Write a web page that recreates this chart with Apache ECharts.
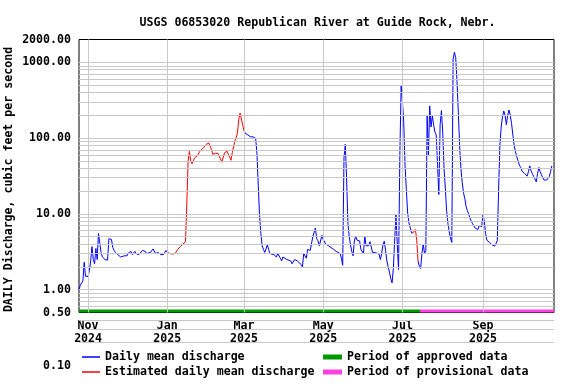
<!DOCTYPE html>
<html><head><meta charset="utf-8">
<script src="https://cdn.jsdelivr.net/npm/echarts@6/dist/echarts.min.js"></script>
<style>html,body{margin:0;padding:0;background:#fff}#c{width:576px;height:384px}</style>
</head><body><div id="c"></div>
<script>
// ---- data ----
const startDay = Date.UTC(2024, 9, 25);           // day offset 0 = 2024-10-25
const axisMin = Date.UTC(2024, 9, 25);
const axisMax = Date.UTC(2025, 9, 25, 16);
const dayOffsets = [0,1,2,3,4,5,6,7,8,9,10,11,12,13,14,15,16,17,18,19,20,21,22,23,24,25,26,27,28,29,30,31,32,33,35,37,38,40,41,43,44,46,47,49,51,52,53,55,57,58,59,61,63,65,66,67,68,
70,72,74,76,78,80,82,83,84,85,86,87,89,90,91,93,96,98,100,102,103,105,107,108,110,112,114,115,117,118,120,121,122,123,124,125,126,127,
128,130,132,134,135,136,137,138,139,140,141,142,143,145,146,147,148,150,152,153,155,156,157,158,160,161,163,164,166,168,169,171,172,173,175,176,178,179,180,182,183,184,185,187,188,190,192,193,196,198,201,202,203,204,205,206,207,208,209,210,211,212,213,214,216,217,219,220,221,223,224,225,226,229,231,232,233,234,235,236,237,238,239,240,241,242,243,244,245,246,247,248,249,250,251,252,253,254,255,256,257,
258,259,260,261,
262,263,264,265,266,267,268,269,270,271,272,273,274,275,276,277,278,279,280,281,282,283,284,285,286,287,288,289,290,291,292,293,294,295,296,297,298,299,300,301,302,303,304,305,306,307,308,309,310,311,312,313,314,315,316,317,318,319,320,321,322,323,324,325,326,327,328,329,330,331,332,333,334,335,336,337,338,339,340,341,342,343,344,345,346,347,348,349,350,351,352,353,354,355,356,357,358,359,360,361,362,363,364];
const dailyFlow = [1.0,1.15,1.2,1.3,2.3,1.5,1.45,1.5,1.8,2.4,3.7,2.5,2.2,3.5,2.5,5.5,4.1,3.1,2.7,2.6,2.5,2.45,2.45,4.7,4.7,4.6,3.6,3.3,3.1,3.0,2.9,2.75,2.7,2.7,2.8,2.8,3.05,3.2,2.9,3.2,3.0,2.9,3.0,3.3,3.2,3.0,2.9,3.1,3.45,3.3,3.0,3.1,2.9,2.9,3.1,3.3,3.1,
3.0,2.95,3.0,3.4,3.7,4.0,4.3,14,50,67,50,46,55,52,58,67,75,83,86,71,61,63,63,62,48,64,67,67,51,64,92,101,118,177,213,217,150,125,
116,110,104,104,100,99,62,24,9.5,5.5,3.8,3.4,3.1,3.9,3.4,3.0,2.9,2.9,2.7,3.0,2.6,2.4,2.7,2.6,2.5,2.55,2.4,2.2,2.5,2.4,2.5,2.15,2.0,3.0,2.6,3.4,3.3,3.5,5.0,6.5,4.7,4.4,3.8,5.2,4.6,4.0,3.8,3.8,3.4,3.2,3.0,2.6,2.1,55,83,30,7.6,5.1,3.9,3.2,2.8,4.4,5.1,4.5,4.4,3.4,3.0,5.1,3.8,3.8,4.3,4.2,3.1,3.05,2.95,2.5,3.0,3.9,4.36,3.3,2.4,2.0,1.7,1.4,1.23,1.9,4.5,9.8,4.0,1.85,60,490,300,160,43,21,10.3,7.6,6.6,5.6,5.6,
5.3,6.2,4.5,2.4,
2.03,1.9,3.0,4.0,3.0,3.3,195,60,266,140,196,150,120,110,45,18,150,230,120,40,22,11,7.5,5.8,4.8,4.2,1100,1360,1150,560,220,80,40,26,19,16,12.5,11,10,8.8,8.0,7.4,7.0,6.5,6.2,6.2,7.0,7.0,6.8,9.8,8.0,5.5,4.5,4.3,4.2,4.0,3.9,3.8,3.75,3.7,4.4,20,80,140,190,228,200,150,200,235,200,155,110,80,66,57,50,44,41,37,35,34,33,31.5,36,43,37,34,31,29,26.5,34,41,36,33,30,28,28,28,28.5,31,36,43];
const estimatedStart = [68, 257];
const estimatedEnd = [127, 261];
const approvedPeriod = [Date.UTC(2024, 9, 25), Date.UTC(2025, 6, 14, 12)];
const provisionalPeriod = [Date.UTC(2025, 6, 14, 12), Date.UTC(2025, 9, 25, 16)];
const xTickDates = [Date.UTC(2024,10,1), Date.UTC(2025,0,1), Date.UTC(2025,2,1), Date.UTC(2025,4,1), Date.UTC(2025,6,1), Date.UTC(2025,8,1)];
const xTickLabels = ['Nov\n2024','Jan\n2025','Mar\n2025','May\n2025','Jul\n2025','Sep\n2025'];
const yTickValues = [2000, 1000, 100, 10, 1, 0.5];
const yTickLabels = ['2000.00','1000.00','100.00','10.00','1.00','0.50'];
const lowTickValues = [0.1];
const lowTickLabels = ['0.10'];
const seriesNames = ['Daily mean discharge','Estimated daily mean discharge','Period of approved data','Period of provisional data'];

// ---- helpers / style ----
const PERIOD_LEVEL = 0.524;
const FONT = {fontFamily:'DejaVu Sans Mono', fontWeight:'bold', fontSize:11.6, color:'#000'};
const GRID_GREY = '#c8c8c8';
const toTime = d => startDay + d * 86400000;
const inside = d => estimatedStart.some((s, k) => d > s && d < estimatedEnd[k]);
const within = d => estimatedStart.some((s, k) => d >= s && d <= estimatedEnd[k]);
const blueData = dayOffsets.map((d, i) => [toTime(d), inside(d) ? null : dailyFlow[i]]);
const redData = dayOffsets.map((d, i) => [toTime(d), within(d) ? dailyFlow[i] : null]);
const gridLineValues = [];
[0.1, 1, 10, 100, 1000].forEach(dec => { for (let m = 1; m <= 9; m++) { const v = +(dec * m).toPrecision(3); if (v > 0.5 && v < 2000) gridLineValues.push(v); } });
const lowGridLineValues = [0.2, 0.3, 0.4];
const sameLog = (a, b) => Math.abs(Math.log10(a) - Math.log10(b)) < 1e-6;

const chart = echarts.init(document.getElementById('c'), null, {renderer:'canvas'});
chart.setOption({
  animation: false,
  backgroundColor: '#fff',
  title: {text:'USGS 06853020 Republican River at Guide Rock, Nebr.', left:312.5, textAlign:'center', top:12,
    textStyle: Object.assign({}, FONT)},
  grid: [
    {left:79, top:39.5, width:475, height:273, show:true, borderColor:'#000', borderWidth:1, backgroundColor:'transparent', containLabel:false, outerBoundsMode:'none'},
    {left:79, top:312.5, width:475, height:53, show:false, containLabel:false, outerBoundsMode:'none'}
  ],
  xAxis: [
    {type:'value', gridIndex:0, min:axisMin, max:axisMax, axisLine:{show:false}, axisTick:{show:false}, splitLine:{show:false},
      axisLabel:{customValues:xTickDates, margin:6.5, lineHeight:13.5, fontFamily:FONT.fontFamily, fontWeight:'bold', fontSize:11.6, color:'#000',
        formatter: v => { const i = xTickDates.findIndex(t => Math.abs(t - v) < 3600000); return i >= 0 ? xTickLabels[i] : ''; }}},
    {type:'value', gridIndex:1, min:axisMin, max:axisMax, show:false}
  ],
  yAxis: [
    {type:'log', gridIndex:0, logBase:10, min:0.5, max:2000, axisLine:{show:false}, axisTick:{show:false}, splitLine:{show:false},
      name:'DAILY Discharge, cubic feet per second', nameLocation:'middle', nameRotate:90, nameGap:64, nameMoveOverlap:false,
      nameTextStyle:{fontFamily:FONT.fontFamily, fontWeight:'bold', fontSize:11.6, color:'#000', padding:[0,7,0,0]},
      axisLabel:{margin:8, fontFamily:FONT.fontFamily, fontWeight:'bold', fontSize:11.6, color:'#000',
        formatter: v => { const i = yTickValues.findIndex(t => sameLog(t, v)); return i >= 0 ? yTickLabels[i] : ''; }}},
    {type:'log', gridIndex:1, logBase:10, min:0.1, max:0.5, axisLine:{show:false}, axisTick:{show:false}, splitLine:{show:false},
      axisLabel:{margin:8, fontFamily:FONT.fontFamily, fontWeight:'bold', fontSize:11.6, color:'#000',
        formatter: v => { const i = lowTickValues.findIndex(t => sameLog(t, v)); return i >= 0 ? lowTickLabels[i] : ''; }}}
  ],
  legend: [
    {left:82, top:350, orient:'vertical', padding:0, itemGap:1, itemWidth:18, itemHeight:1.5, icon:'rect', selectedMode:false,
      textStyle:Object.assign({lineHeight:14}, FONT), data:[seriesNames[0], seriesNames[1]]},
    {left:323, top:350, orient:'vertical', padding:0, itemGap:1, itemWidth:19, itemHeight:5, icon:'rect', selectedMode:false,
      textStyle:Object.assign({lineHeight:14}, FONT), data:[seriesNames[2], seriesNames[3]]}
  ],
  series: [
    {type:'line', name:'gridlines', xAxisIndex:0, yAxisIndex:0, data:[], silent:true,
      markLine:{silent:true, symbol:['none','none'], label:{show:false}, emphasis:{disabled:true},
        lineStyle:{color:GRID_GREY, width:1, type:'solid'},
        data: gridLineValues.map(v => ({yAxis:v})).concat(xTickDates.map(t => ({xAxis:t})))}},
    {type:'line', name:'lowgridlines', xAxisIndex:1, yAxisIndex:1, data:[], silent:true,
      markLine:{silent:true, symbol:['none','none'], label:{show:false}, emphasis:{disabled:true},
        lineStyle:{color:GRID_GREY, width:1, type:'solid'},
        data: lowGridLineValues.map(v => ({yAxis:v}))}},
    {type:'line', name:seriesNames[2], xAxisIndex:0, yAxisIndex:0, data:approvedPeriod.map(t => [t, PERIOD_LEVEL]),
      symbol:'none', color:'#009900', lineStyle:{width:3, color:'#009900'}, silent:true},
    {type:'line', name:seriesNames[3], xAxisIndex:0, yAxisIndex:0, data:provisionalPeriod.map(t => [t, PERIOD_LEVEL]),
      symbol:'none', color:'#ff40e0', lineStyle:{width:3, color:'#ff40e0'}, silent:true},
    {type:'line', name:seriesNames[0], xAxisIndex:0, yAxisIndex:0, data:blueData, symbol:'none', connectNulls:false,
      color:'#0000ff', lineStyle:{width:1, color:'#0000ff'}, silent:true},
    {type:'line', name:seriesNames[1], xAxisIndex:0, yAxisIndex:0, data:redData, symbol:'none', connectNulls:false,
      color:'#ff0000', lineStyle:{width:1, color:'#ff0000'}, silent:true}
  ]
});
</script></body></html>
